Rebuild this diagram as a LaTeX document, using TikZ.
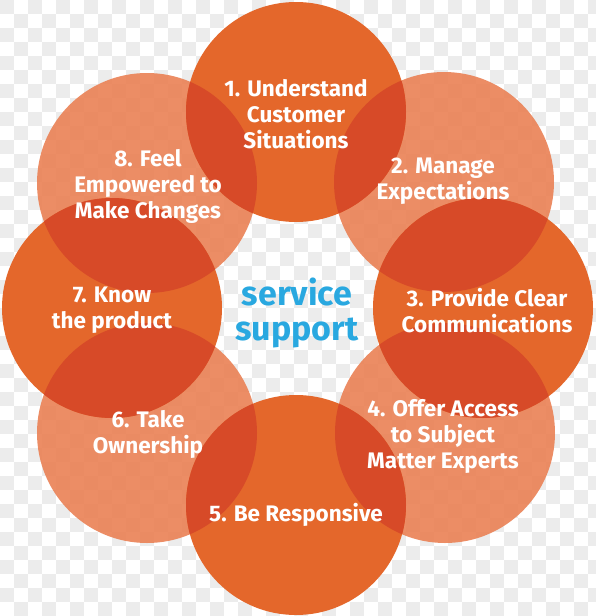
\documentclass[tikz,border=0pt]{standalone}
\usepackage{fontspec}
\setmainfont{Fira Sans}
\definecolor{darkc}{HTML}{E4672B}
\definecolor{lightc}{HTML}{EA8155}
\definecolor{overc}{HTML}{D74A28}
\definecolor{checkc}{HTML}{ECECEC}
\definecolor{bluec}{HTML}{29A8E0}
\tikzset{
  lbl/.style={text=white, font=\bfseries\fontsize{22.5}{26}\selectfont, align=center, inner sep=0pt},
  centertxt/.style={text=bluec, font=\bfseries\fontsize{34}{35}\selectfont, align=center, inner sep=0pt},
  darkcircle/.style={fill=darkc},
  lightcircle/.style={fill=lightc, fill opacity=0.9},
}
\begin{document}
\begin{tikzpicture}[x=1pt,y=-1pt]
\useasboundingbox (0,0) rectangle (595,616);
\fill[white] (0,0) rectangle (595,616);
\foreach \i in {0,...,42} {
  \foreach \j in {0,...,22} {
    \fill[checkc] ({\i*14},{(2*\j+mod(\i,2))*14}) rectangle ++(14,14);
  }
}
% centres
\coordinate (c1) at (296,112);
\coordinate (c2) at (444,182);
\coordinate (c3) at (483,308);
\coordinate (c4) at (445,433);
\coordinate (c5) at (296,505);
\coordinate (c6) at (147,433);
\coordinate (c7) at (112,308);
\coordinate (c8) at (147,183);
% light circles
\foreach \k in {2,4,6,8} { \fill[lightcircle] (c\k) circle[radius=110pt]; }
% dark circles
\foreach \k in {1,3,5,7} { \fill[darkcircle] (c\k) circle[radius=110pt]; }
% overlaps
\foreach \a/\b in {1/2,1/8,3/2,3/4,5/4,5/6,7/6,7/8} {
  \begin{scope}
    \clip (c\a) circle[radius=110pt];
    \fill[overc] (c\b) circle[radius=110pt];
  \end{scope}
}
% labels
\node[lbl] (t1) at (296,114) {1. Understand\\Customer\\Situations};
\node[lbl] (t2) at (443,181) {2. Manage\\Expectations};
\node[lbl] (t3) at (487,311) {3. Provide Clear\\Communications};
\node[lbl] (t4) at (443,436) {4. Offer Access\\to Subject\\Matter Experts};
\node[lbl] (t5) at (296,515) {5. Be Responsive};
\node[lbl] (t6) at (148,434) {6. Take\\Ownership};
\node[lbl] (t7) at (112,310) {7. Know\\the product};
\node[lbl] (t8) at (148,186) {8. Feel\\Empowered to\\Make Changes};
\node[centertxt] (ct) at (297,313) {service\\support};
\end{tikzpicture}
\end{document}
